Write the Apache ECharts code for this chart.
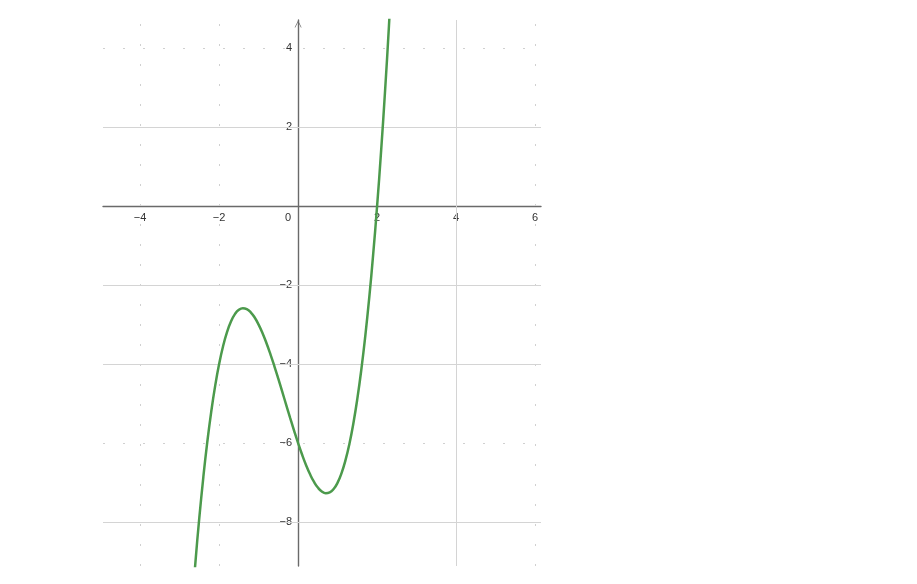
<!DOCTYPE html>
<html>
<head>
<meta charset="utf-8">
<script src="https://cdn.jsdelivr.net/npm/echarts@6/dist/echarts.min.js"></script>
<style>
html,body{margin:0;padding:0;background:#fff;}
#chart{width:917px;height:584px;}
</style>
</head>
<body>
<div id="chart"></div>
<script>
// Curve samples (x, y)
var xs = [-2.7,-2.6,-2.5,-2.4,-2.3,-2.2,-2.1,-2.0,-1.9,-1.8,-1.7,-1.6,-1.5,-1.4,-1.3,-1.2,-1.1,-1.0,-0.9,-0.8,-0.7,-0.6,-0.5,-0.4,-0.3,-0.2,-0.1,0,0.1,0.2,0.3,0.4,0.5,0.6,0.7,0.8,0.9,1.0,1.1,1.2,1.3,1.4,1.5,1.6,1.7,1.8,1.9,2.0,2.1,2.2,2.3,2.4];
var ys = [-10.293,-9.016,-7.875,-6.864,-5.977,-5.208,-4.551,-4,-3.549,-3.192,-2.923,-2.736,-2.625,-2.584,-2.607,-2.688,-2.821,-3,-3.219,-3.472,-3.753,-4.056,-4.375,-4.704,-5.037,-5.368,-5.691,-6,-6.289,-6.552,-6.783,-6.976,-7.125,-7.224,-7.267,-7.248,-7.161,-7,-6.759,-6.432,-6.013,-5.496,-4.875,-4.144,-3.297,-2.328,-1.231,0,1.371,2.888,4.557,6.384];

// Tick labels
var xTickLabels = [-4,-2,0,2,4,6];
var yTickLabels = [-8,-6,-4,-2,2,4];

// Grid lines
var xGridSolid = [4];
var xGridFaint = [-4,-2,6];
var yGridSolid = [2,-2,-4,-8];
var yGridFaint = [4,-6];

var points = xs.map(function(x,i){ return [x, ys[i]]; });

function fmt(v){ v = Math.round(v); return v < 0 ? '\u2212' + Math.abs(v) : String(v); }

var XMIN = -4.94, XMAX = 6.15, YMIN = -9.11, YMAX = 4.71;
var GL = 103, GT = 20, GW = 438, GH = 546;
// offsets so the axes sit at the zero lines
var xAxisOffset = -(GH * (0 - YMIN) / (YMAX - YMIN));
var yAxisOffset = -(GW * (0 - XMIN) / (XMAX - XMIN));

var chart = echarts.init(document.getElementById('chart'), null, {renderer:'canvas'});

var gridSolidStyle = {color:'#d4d4d4', width:1, type:'solid'};
var gridFaintStyle = {color:'#d0d0d0', width:1, type:[2,18]};

function mk(list, key, style){
  return list.map(function(v){ var o = {}; o[key] = v; o.lineStyle = style; return o; });
}

var labelFont = 'Liberation Sans, Arial, sans-serif';

var option = {
  animation:false,
  backgroundColor:'#ffffff',
  grid:{left:GL, top:GT, width:GW, height:GH, containLabel:false},
  xAxis:{
    type:'value', min:XMIN, max:XMAX, position:'bottom', offset:xAxisOffset,
    splitLine:{show:false},
    axisTick:{show:false},
    axisLine:{show:true, onZero:false, lineStyle:{color:'#6a6a6a', width:1.4}},
    axisLabel:{
      customValues:xTickLabels, margin:6,
      color:'#333', fontSize:11, fontFamily:labelFont,
      formatter:function(v){ return v === 0 ? '{z|0}' : fmt(v); },
      rich:{z:{color:'#333', fontSize:11, fontFamily:labelFont, padding:[0,20,0,0]}}
    }
  },
  yAxis:{
    type:'value', min:YMIN, max:YMAX, position:'left', offset:yAxisOffset,
    splitLine:{show:false},
    axisTick:{show:false},
    axisLine:{show:true, onZero:false, lineStyle:{color:'#6a6a6a', width:1.4},
      symbol:['none','path://M0,10 L5,0 L10,10 L9,10 L5,2 L1,10 Z'], symbolSize:[9,7], symbolOffset:[0,-4]},
    axisLabel:{
      customValues:yTickLabels, margin:6,
      color:'#333', fontSize:11, fontFamily:labelFont,
      formatter:function(v){ return fmt(v); }
    }
  },
  series:[
    {
      type:'line', data:[], z:0, silent:true,
      markLine:{
        silent:true, symbol:['none','none'], label:{show:false}, animation:false,
        data: mk(xGridSolid,'xAxis',gridSolidStyle)
          .concat(mk(xGridFaint,'xAxis',gridFaintStyle))
          .concat(mk(yGridSolid,'yAxis',gridSolidStyle))
          .concat(mk(yGridFaint,'yAxis',gridFaintStyle))
      }
    },
    {
      type:'line', data:points, smooth:true, showSymbol:false, clip:true, z:5,
      lineStyle:{color:'#4c9a4c', width:2.5}
    }
  ]
};
chart.setOption(option);
</script>
</body>
</html>
